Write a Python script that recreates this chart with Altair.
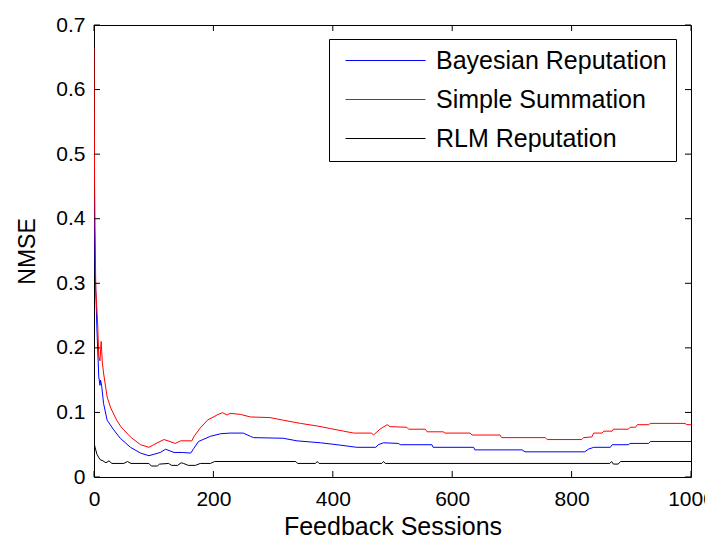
import altair as alt
import pandas as pd

# ---- data ----
series_names = ["Bayesian Reputation", "Simple Summation", "RLM Reputation"]
series_colors = ["#0000ff", "#ff0000", "#000000"]

bayes_x = [0, 2, 5, 8, 10, 11, 13, 16, 22, 33, 44, 61, 78, 92, 111, 120, 134, 148, 162, 167, 175, 195, 212, 228,
           250, 262, 267, 317, 340, 379, 407, 440, 472, 476, 485, 510, 513, 566, 568, 636, 638, 717, 722, 822, 828,
           837, 865, 868, 895, 898, 929, 932, 1000]
bayes_y = [0.434, 0.32, 0.226, 0.155, 0.142, 0.150, 0.14, 0.114, 0.088, 0.073, 0.060, 0.046, 0.037, 0.033, 0.038,
           0.043, 0.038, 0.038, 0.037, 0.044, 0.055, 0.063, 0.067, 0.068, 0.068, 0.063, 0.061, 0.060, 0.056, 0.053,
           0.050, 0.046, 0.046, 0.050, 0.053, 0.052, 0.050, 0.050, 0.046, 0.046, 0.042, 0.042, 0.039, 0.039, 0.043,
           0.046, 0.046, 0.050, 0.050, 0.052, 0.052, 0.055, 0.055]

simple_x = [0, 1, 3, 6, 8, 10, 12, 14, 16, 22, 28, 38, 45, 50, 61, 78, 92, 100, 117, 124, 136, 145, 164, 167, 178,
            190, 206, 215, 223, 228, 245, 262, 295, 317, 346, 374, 396, 418, 435, 465, 468, 479, 491, 496, 524, 527,
            555, 558, 585, 588, 630, 633, 680, 683, 756, 759, 817, 820, 834, 837, 851, 854, 868, 870, 895, 898, 907,
            910, 929, 932, 990, 993, 1000]
simple_y = [0.664, 0.45, 0.29, 0.24, 0.186, 0.18, 0.21, 0.177, 0.161, 0.124, 0.107, 0.088, 0.078, 0.073, 0.062,
            0.050, 0.046, 0.050, 0.058, 0.056, 0.052, 0.056, 0.056, 0.062, 0.076, 0.088, 0.096, 0.0996, 0.096,
            0.0986, 0.097, 0.093, 0.092, 0.088, 0.083, 0.079, 0.075, 0.071, 0.068, 0.068, 0.065, 0.074, 0.081,
            0.078, 0.077, 0.074, 0.074, 0.070, 0.070, 0.068, 0.068, 0.065, 0.065, 0.061, 0.061, 0.058, 0.058,
            0.061, 0.062, 0.068, 0.068, 0.071, 0.071, 0.074, 0.074, 0.077, 0.077, 0.081, 0.081, 0.083, 0.083,
            0.081, 0.081]

rlm_x = [0, 2, 5, 10, 15, 20, 25, 30, 50, 56, 62, 92, 96, 106, 110, 125, 130, 140, 146, 150, 158, 170, 178, 195,
         202, 338, 341, 371, 374, 377, 482, 485, 488, 864, 867, 870, 878, 882, 1000]
rlm_y = [0.053, 0.045, 0.035, 0.027, 0.025, 0.022, 0.025, 0.021, 0.021, 0.024, 0.021, 0.021, 0.017, 0.017, 0.020,
         0.021, 0.018, 0.018, 0.022, 0.021, 0.018, 0.018, 0.021, 0.021, 0.024, 0.024, 0.021, 0.021, 0.024, 0.021,
         0.021, 0.024, 0.021, 0.021, 0.024, 0.020, 0.020, 0.024, 0.024]

x_ticks = [0, 200, 400, 600, 800, 1000]
y_ticks = [0, 0.1, 0.2, 0.3, 0.4, 0.5, 0.6, 0.7]

# ---- build tables ----
rows = []
for name, xs, ys in [(series_names[0], bayes_x, bayes_y),
                     (series_names[1], simple_x, simple_y),
                     (series_names[2], rlm_x, rlm_y)]:
    assert len(xs) == len(ys), name
    for i, (a, b) in enumerate(zip(xs, ys)):
        rows.append({"series": name, "session": a, "nmse": b, "idx": i})
df = pd.DataFrame(rows)
xt = pd.DataFrame({"session": x_ticks})
yt = pd.DataFrame({"nmse": y_ticks})

W, H = 597, 452
FONT = "Liberation Sans"

xscale = alt.Scale(domain=[0, 1000], nice=False, zero=False)
yscale = alt.Scale(domain=[0, 0.7], nice=False, zero=False)

xaxis = alt.Axis(title="Feedback Sessions", values=x_ticks, grid=False, ticks=False, domain=False,
                 format="d", labelFlush=False, labelOverlap=False, labelBound=False, labelPadding=11,
                 labelFontSize=21, labelFont=FONT, labelColor="black",
                 titleFontSize=25, titleFont=FONT, titleFontWeight="normal", titleColor="black",
                 titleY=57, titleBaseline="alphabetic")
yaxis = alt.Axis(title="NMSE", values=y_ticks, grid=False, ticks=False, domain=False,
                 labelExpr="datum.value == 0 ? '0' : format(datum.value, '.1f')",
                 labelPadding=9, labelFontSize=21, labelFont=FONT, labelColor="black",
                 labelOverlap=False, labelFlush=False,
                 titleFontSize=23, titleFont=FONT, titleFontWeight="normal", titleColor="black",
                 titleX=-67, titleY=H / 2, titleBaseline="middle", titleAlign="center", titleAngle=-90)

X = alt.X("session:Q", scale=xscale, axis=xaxis)
Y = alt.Y("nmse:Q", scale=yscale, axis=yaxis)

lines = alt.Chart(df).mark_line(strokeWidth=1, clip=True).encode(
    x=X,
    y=Y,
    color=alt.Color("series:N",
                    scale=alt.Scale(domain=series_names, range=series_colors),
                    legend=alt.Legend(title=None, orient="none", legendX=235, legendY=14,
                                      strokeColor="black", fillColor="white", padding=9, cornerRadius=0,
                                      symbolType="M-4,0H4", symbolSize=400, symbolStrokeWidth=1,
                                      symbolOffset=35, labelOffset=38, labelFontSize=25, labelFont=FONT,
                                      labelColor="black", labelLimit=500, rowPadding=13)),
    order="idx:Q",
)

tick_len = 6
xb = alt.Chart(xt).mark_rule(color="black", strokeWidth=1).encode(
    x=X, y=alt.value(H), y2=alt.value(H - tick_len))
xtop = alt.Chart(xt).mark_rule(color="black", strokeWidth=1).encode(
    x=X, y=alt.value(0), y2=alt.value(tick_len))
yl = alt.Chart(yt).mark_rule(color="black", strokeWidth=1).encode(
    y=Y, x=alt.value(0), x2=alt.value(tick_len))
yr = alt.Chart(yt).mark_rule(color="black", strokeWidth=1).encode(
    y=Y, x=alt.value(W), x2=alt.value(W - tick_len))

chart = alt.layer(lines, xb, xtop, yl, yr).properties(
    width=W, height=H,
    autosize=alt.AutoSizeParams(type="none"),
    padding={"left": 94, "top": 25, "right": 14, "bottom": 63},
    background="white",
).configure_view(stroke="black", strokeWidth=1)

chart.save("out.html", embed_options={"renderer": "svg", "actions": False})
